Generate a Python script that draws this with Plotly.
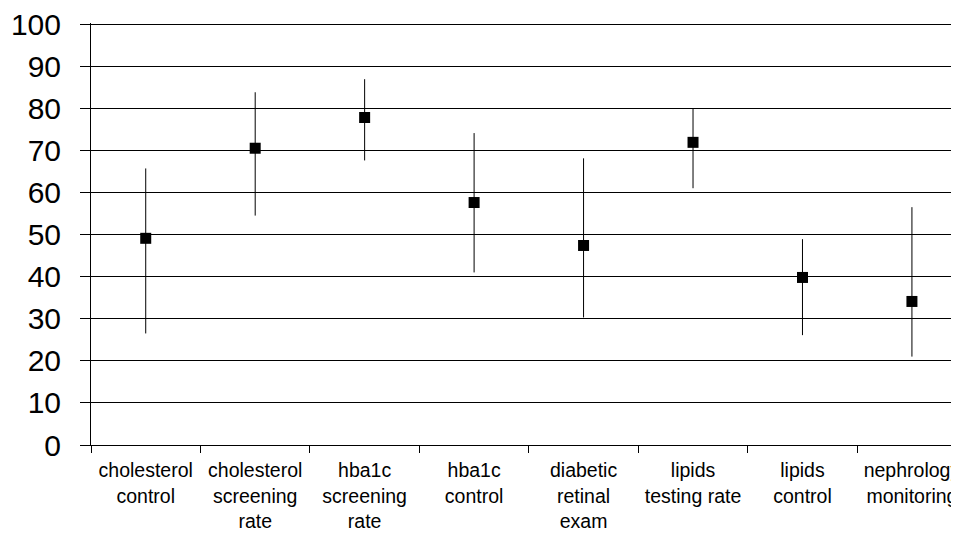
import plotly.graph_objects as go

categories = ["cholesterol<br>control", "cholesterol<br>screening<br>rate", "hba1c<br>screening<br>rate",
              "hba1c<br>control", "diabetic<br>retinal<br>exam", "lipids<br>testing rate",
              "lipids<br>control", "nephrology<br>monitoring"]
values = [49.1, 70.5, 77.8, 57.6, 47.4, 71.9, 39.8, 34.1]
upper = [65.7, 83.8, 86.9, 74.1, 68.1, 80.0, 48.9, 56.5]
lower = [26.5, 54.5, 67.6, 41.0, 30.3, 61.0, 26.1, 21.0]
y_ticks = list(range(0, 101, 10))

err_plus = [u - v for u, v in zip(upper, values)]
err_minus = [v - l for v, l in zip(values, lower)]

fig = go.Figure()
fig.add_trace(go.Scatter(
    x=categories, y=values, mode="markers",
    marker=dict(symbol="square", size=11, color="black"),
    error_y=dict(type="data", symmetric=False, array=err_plus, arrayminus=err_minus,
                 width=0, thickness=1, color="black"),
    showlegend=False,
))

fig.update_layout(
    width=951, height=526,
    margin=dict(l=83, r=0, t=15, b=89),
    paper_bgcolor="white", plot_bgcolor="white",
    font=dict(family="Liberation Sans, Arial, sans-serif", color="black"),
)
fig.update_xaxes(
    type="category", range=[-0.5, 7.43], tickson="boundaries",
    ticks="outside", ticklen=7, tickcolor="black", tickwidth=1,
    showline=True, linecolor="black", linewidth=1,
    showgrid=False, tickfont=dict(size=19.5), tickangle=0,
    ticklabelstandoff=8, automargin=False,
)
fig.update_yaxes(
    range=[0, 100.25], tickvals=y_ticks,
    ticks="outside", ticklen=10, tickcolor="black", tickwidth=1,
    showline=True, linecolor="black", linewidth=1,
    showgrid=True, gridcolor="black", gridwidth=1, zeroline=False,
    tickfont=dict(size=30), ticklabelstandoff=13, ticklabeloverflow="allow",
    automargin=False,
)

fig.write_html("out.html")
